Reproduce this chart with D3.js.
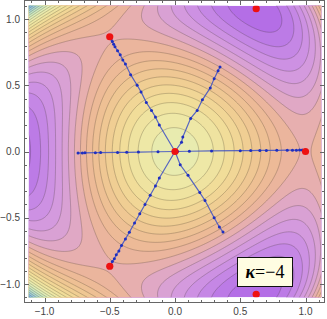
<!DOCTYPE html>
<html><head><meta charset="utf-8">
<script src="https://cdn.jsdelivr.net/npm/d3@7"></script>
<style>body{margin:0;background:#fff;overflow:hidden}</style>
</head><body>
<svg id="chart" width="327" height="319"></svg>
<script>
// ---- data ----
const xTickValues = [-1.0, -0.5, 0.0, 0.5, 1.0];
const yTickValues = [-1.0, -0.5, 0.0, 0.5, 1.0];
const xDomain = [-1.12, 1.12];
const yDomain = [-1.1, 1.1];
// potential V = a r^2 + b r^3 cos(3θ) + c r^4
const potentialCoefficients = [-1, 0.131, 0.4016];
const contourLevelAnchor = [-0.08];
const contourStep = [0.048];
const criticalX = [0, 1, -0.5, -0.5, 0.622, 0.622];
const criticalY = [0, 0, 0.866, -0.866, 1.078, -1.078];
const pathRight = [[0,0],[0.02,0],[0.11,0.002],[0.28,0.004],[0.50,0.006],[0.58,0.007],[0.65,0.008],[0.70,0.008],[0.78,0.009],[0.86,0.010],[0.90,0.010],[0.93,0.010],[0.955,0.011],[0.975,0.011],[1,0.011]];
const pathLeft = [[0,0],[-0.13,-0.002],[-0.28,-0.004],[-0.37,-0.006],[-0.44,-0.007],[-0.57,-0.008],[-0.61,-0.009],[-0.69,-0.010],[-0.71,-0.011],[-0.743,-0.012]];
const pathUpLeft = [[0,0],[-0.12,0.2],[-0.15,0.26],[-0.18,0.31],[-0.22,0.37],[-0.26,0.45],[-0.29,0.50],[-0.34,0.58],[-0.38,0.66],[-0.40,0.69],[-0.42,0.73],[-0.44,0.76],[-0.46,0.79],[-0.47,0.81],[-0.48,0.83],[-0.49,0.85],[-0.5,0.866]];
const pathDownLeft = [[0,0],[-0.12,-0.2],[-0.15,-0.26],[-0.19,-0.33],[-0.23,-0.40],[-0.27,-0.47],[-0.31,-0.54],[-0.35,-0.61],[-0.38,-0.66],[-0.41,-0.71],[-0.43,-0.75],[-0.45,-0.78],[-0.465,-0.81],[-0.48,-0.83],[-0.49,-0.85],[-0.5,-0.866]];
const pathUpRight = [[0,0],[0.05,0.07],[0.06,0.11],[0.12,0.25],[0.17,0.31],[0.21,0.39],[0.27,0.48],[0.30,0.55],[0.33,0.61],[0.345,0.638]];
const pathDownRight = [[0,0],[0.04,-0.1],[0.10,-0.18],[0.19,-0.31],[0.23,-0.37],[0.30,-0.50],[0.34,-0.57],[0.368,-0.608]];
const kappaLabel = ["κ", "=−4"];
const colorPositions = [0, 0.08, 0.16, 0.24, 0.29, 0.33, 0.40, 0.50, 0.59, 0.68, 0.76, 0.84, 0.92, 1.0];
const colorStops = ["#b069e6","#c283e6","#d197e2","#dca4d0","#e5acb8","#eab3a0","#edbb95","#f0cb92","#f1dc98","#eee8a6","#e2eeb6","#c4e5c4","#9fd0d8","#7eb2ea"];

// ---- layout ----
const svg = d3.select("#chart");
const x = d3.scaleLinear().domain([-1, 1]).range([44.5, 305.5]);
const y = d3.scaleLinear().domain([-1, 1]).range([284, 19]);
const fx0 = x(xDomain[0]), fx1 = x(xDomain[1]), fy0 = y(yDomain[1]), fy1 = y(yDomain[0]);
const frame = {l: 24.5, r: 324.5, t: 0.5, b: 302.5};

const [A, B, C] = potentialCoefficients;
function V(px, py) {
  const r2 = px*px + py*py;
  const re3 = px*px*px - 3*px*py*py; // r^3 cos3θ
  return A*r2 + B*re3 + C*r2*r2;
}
const n = 260, m = 260, gx0 = -1.2, gx1 = 1.2, gy0 = -1.2, gy1 = 1.2;
const dx = (gx1-gx0)/(n-1), dy = (gy1-gy0)/(m-1);
const values = new Float64Array(n*m);
for (let j=0;j<m;j++) for (let i=0;i<n;i++) values[j*n+i] = V(gx0+i*dx, gy1-j*dy);

let vmin = Infinity, vmax = -Infinity;
for (let j=0;j<m;j++) for (let i=0;i<n;i++) {
  const px = gx0+i*dx, py = gy1-j*dy;
  if (px>=xDomain[0]&&px<=xDomain[1]&&py>=yDomain[0]&&py<=yDomain[1]) {
    const v = values[j*n+i]; if (v<vmin) vmin=v; if (v>vmax) vmax=v;
  }
}
const st = contourStep[0], an = contourLevelAnchor[0];
const kLo = Math.ceil((vmin - an)/st), kHi = Math.floor((vmax - an)/st);
const thresholds = d3.range(kLo, kHi+1).map(k => an + k*st);
const color = d3.scaleLinear().domain(colorPositions).range(colorStops).interpolate(d3.interpolateRgb).clamp(true);
const norm = v => (v - vmin)/(vmax - vmin);

const proj = d3.geoTransform({point(cx, cy){ this.stream.point(x(gx0 + (cx-0.5)*dx), y(gy1 - (cy-0.5)*dy)); }});
const path = d3.geoPath(proj);
const contours = d3.contours().size([n, m]).thresholds(thresholds)(values);

const defs = svg.append("defs");
defs.append("clipPath").attr("id","fill").append("rect").attr("x",fx0).attr("y",fy0).attr("width",fx1-fx0).attr("height",fy1-fy0);
const g = svg.append("g").attr("clip-path","url(#fill)");
g.append("rect").attr("x",fx0).attr("y",fy0).attr("width",fx1-fx0).attr("height",fy1-fy0)
  .attr("fill", color(norm((vmin + thresholds[0])/2)));
contours.forEach((c,k)=>{
  const hi = k+1<thresholds.length ? thresholds[k+1] : vmax;
  g.append("path").attr("d", path(c)).attr("fill", color(norm((c.value+hi)/2)));
});
contours.forEach(c=>{
  g.append("path").attr("d", path(c)).attr("fill","none").attr("stroke","rgba(60,50,40,0.36)").attr("stroke-width",0.7);
});

const line = d3.line().x(d=>x(d[0])).y(d=>y(d[1]));
[pathRight, pathLeft, pathUpLeft, pathDownLeft, pathUpRight, pathDownRight].forEach(p=>{
  g.append("path").attr("d", line(p)).attr("fill","none").attr("stroke","#3c4fc4").attr("stroke-width",1.2).attr("opacity",0.85);
  g.selectAll(null).data(p.slice(1)).enter().append("circle")
    .attr("cx",d=>x(d[0])).attr("cy",d=>y(d[1])).attr("r",1.5).attr("fill","#1f2fc0");
});
g.selectAll(null).data(criticalX.map((v,i)=>[v,criticalY[i]])).enter().append("circle")
  .attr("cx",d=>x(d[0])).attr("cy",d=>y(d[1])).attr("r",3.6).attr("fill","#ee1111");

// frame
svg.append("rect").attr("x",frame.l).attr("y",frame.t).attr("width",frame.r-frame.l).attr("height",frame.b-frame.t)
  .attr("fill","none").attr("stroke","#666").attr("stroke-width",1);
const minor = d3.range(-11, 12).map(v=>v/10);
const tickG = svg.append("g").attr("stroke","#666").attr("stroke-width",1);
minor.forEach(v=>{
  const major = Math.abs(v*2 - Math.round(v*2)) < 1e-9;
  const L = major ? 4.5 : 2.5;
  const px = Math.round(x(v))+0.5;
  if (px>frame.l && px<frame.r) {
    tickG.append("line").attr("x1",px).attr("x2",px).attr("y1",frame.b).attr("y2",frame.b-L);
    tickG.append("line").attr("x1",px).attr("x2",px).attr("y1",frame.t).attr("y2",frame.t+L);
  }
  const py = Math.round(y(v))+0.5;
  if (py>frame.t && py<frame.b) {
    tickG.append("line").attr("y1",py).attr("y2",py).attr("x1",frame.l).attr("x2",frame.l+L);
    tickG.append("line").attr("y1",py).attr("y2",py).attr("x1",frame.r).attr("x2",frame.r-L);
  }
});
const fmt = d3.format(".1f");
svg.selectAll(null).data(xTickValues).enter().append("text")
  .attr("x",d=>x(d)).attr("y",315).attr("text-anchor","middle")
  .attr("font-family","Liberation Sans").attr("font-size",10).attr("fill","#444").text(d=>fmt(d));
svg.selectAll(null).data(yTickValues).enter().append("text")
  .attr("x",20).attr("y",d=>y(d)+3.5).attr("text-anchor","end")
  .attr("font-family","Liberation Sans").attr("font-size",10).attr("fill","#444").text(d=>fmt(d));

svg.append("rect").attr("x",237.5).attr("y",257.5).attr("width",55).attr("height",29).attr("fill","#fffde2").attr("stroke","#111").attr("stroke-width",1);
const t = svg.append("text").attr("x",265).attr("y",278).attr("text-anchor","middle").attr("font-family","Liberation Serif").attr("font-size",18).attr("fill","#000");
t.append("tspan").attr("font-style","italic").attr("font-weight","bold").text(kappaLabel[0]);
t.append("tspan").text(kappaLabel[1]);
</script>
</body></html>
